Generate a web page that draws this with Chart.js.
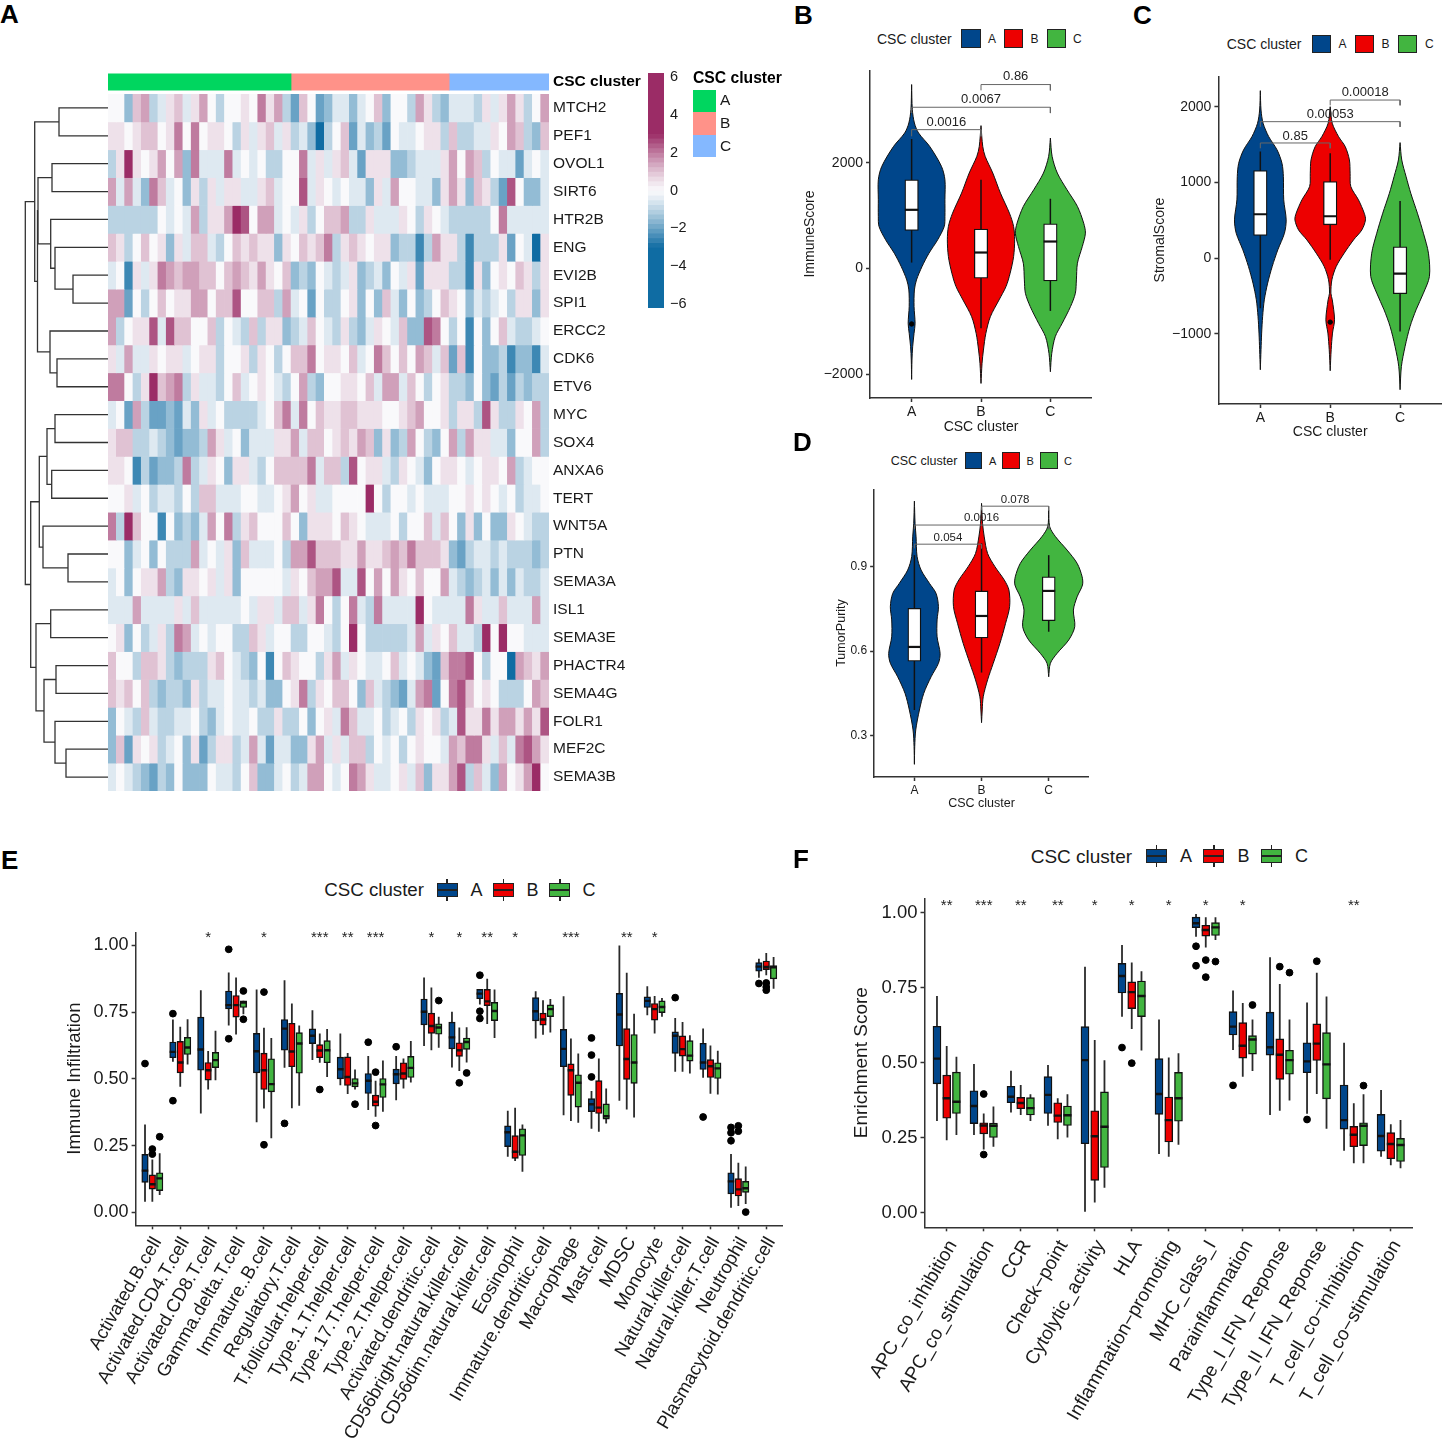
<!DOCTYPE html>
<html>
<head>
<meta charset="utf-8">
<title>CSC cluster panels</title>
<script src="https://cdn.jsdelivr.net/npm/chart.js@4/dist/chart.umd.min.js"></script>
<style>
  html, body { margin: 0; padding: 0; background: #fff; width: 1442px; height: 1442px; overflow: hidden; }
  #page { position: relative; width: 1442px; height: 1442px; overflow: hidden; font-family: "Liberation Sans", Arial, sans-serif; }
  #page canvas { position: absolute; }
  .txt { position: absolute; white-space: nowrap; line-height: 1; color: #1a1a1a; transform: translateY(-50%); }
  .key { position: absolute; box-sizing: border-box; border: 1.5px solid #222; }
</style>
</head>
<body>
<div id="page"></div>
<script>
// ---------- shared categories ----------
const clusterNames = ['A', 'B', 'C'];
const clusterColors = ['#00468B', '#ED0000', '#42B540'];

// ---------- panel A: heatmap ----------
const genes = ['MTCH2', 'PEF1', 'OVOL1', 'SIRT6', 'HTR2B', 'ENG', 'EVI2B', 'SPI1', 'ERCC2', 'CDK6', 'ETV6', 'MYC', 'SOX4',
  'ANXA6', 'TERT', 'WNT5A', 'PTN', 'SEMA3A', 'ISL1', 'SEMA3E', 'PHACTR4', 'SEMA4G', 'FOLR1', 'MEF2C', 'SEMA3B'];
const annotCounts = [22, 19, 12];
const annotColors = ['#00D65F', '#FF9289', '#84B8FF'];
const colorTicks = [-6, -4, -2, 0, 2, 4, 6];
const colorBreaks = [-6.2, -3, -2.75, -2.5, -2.25, -2, -1.75, -1.5, -1.25, -1, -0.75, -0.5, -0.25, 0, 0.25, 0.5, 0.75, 1, 1.25, 1.5, 1.75, 2, 2.25, 2.5, 2.75, 3, 6.2];
const heatRows = [
  [0,0,-3,2,3,-2,-1,1,2,-1,1,3,0,-2,0,0,1,0,4,1,3,-2,-4,2,0,-4,-3,-1,-1,-3,-1,0,2,-3,0,0,-2,3,1,-2,-3,-1,-1,-1,-2,1,-1,1,3,1,-2,0,3],
  [1,1,0,1,2,2,0,1,4,0,4,0,1,1,0,-2,1,-1,1,2,-1,1,-2,-1,-3,-6,-2,0,2,-4,-1,-3,-2,-4,0,-1,-1,0,1,1,-2,2,-2,-2,-1,-1,1,0,3,2,-2,-3,2],
  [-2,1,6,1,0,1,3,0,3,-3,4,-1,-1,-1,4,-1,0,-1,0,-2,-2,0,0,4,-1,1,-1,1,2,-1,-4,1,1,1,-3,-3,-2,-1,-1,-1,1,3,0,3,2,-2,0,-1,-1,-4,-1,0,-1],
  [3,-1,3,-1,-3,4,2,-1,0,-3,1,-2,1,-1,1,1,-1,-1,1,2,-1,0,0,5,-1,1,0,-1,0,-1,-1,-3,1,-1,3,0,0,-1,-1,-3,1,3,1,-3,2,1,-2,-4,5,0,-3,-3,-1],
  [-2,-2,-2,-2,-2,-2,0,-1,0,-1,3,-2,1,1,3,6,5,0,3,3,-1,0,-1,1,-2,0,2,2,3,-2,-2,1,-1,-1,-1,1,0,-2,1,0,-1,-2,-2,-2,-2,-2,0,4,-1,-1,-1,-1,-1],
  [2,1,-2,0,2,0,1,-3,1,-1,2,2,-1,-2,0,2,1,2,1,1,-3,1,0,2,1,2,4,-2,1,2,1,0,1,1,-3,-2,-2,-5,-2,3,1,1,-2,-5,-2,-2,-2,1,-4,0,-1,-6,1],
  [-1,0,-5,1,-1,1,4,3,2,3,3,2,2,0,2,3,2,1,3,1,0,2,-3,-2,-3,0,-1,-2,-1,1,-3,-2,-1,-3,0,-1,1,-4,1,1,1,-2,-2,-5,1,-3,0,1,0,2,1,-2,1],
  [3,3,-4,0,-2,0,2,0,1,1,3,3,0,2,2,5,0,0,2,2,-2,3,-1,0,-4,0,-2,-2,0,1,-3,0,-3,2,-1,-3,0,-3,-2,0,2,1,0,-3,-1,-2,-1,0,-2,1,1,-3,1],
  [3,-2,0,1,1,5,-1,5,2,2,0,0,2,-2,0,-1,-2,2,-2,1,1,-3,-2,-1,2,0,-1,-2,1,-2,-3,-1,1,0,-1,2,-3,-3,5,4,0,-2,0,-5,0,-3,0,2,-1,-2,-2,-1,0],
  [1,-1,3,-1,-1,1,0,1,1,-1,0,1,1,-2,0,0,1,-2,1,0,-2,0,2,2,4,0,1,1,0,2,-1,0,4,2,0,2,0,3,2,-1,2,-4,2,-5,0,-3,-3,-2,-5,-3,-3,-5,-1],
  [4,4,0,-2,1,6,2,3,4,-2,1,-1,-1,-2,0,2,-1,0,1,0,-1,-2,0,3,-2,-3,0,0,1,1,0,2,-1,3,3,-1,2,0,-2,0,1,-2,-2,-3,0,-3,-4,-2,-4,-2,-3,-2,-2],
  [-1,0,-4,3,-2,-4,-4,-3,-4,-1,-3,1,-1,0,-2,-2,-2,-2,-1,0,2,4,-1,4,0,2,1,1,2,2,1,1,1,0,0,1,2,3,0,0,1,-2,1,1,-2,5,1,-2,-2,1,0,3,-2],
  [1,2,2,-2,-2,-1,-2,-3,-4,-3,-3,-2,3,1,-1,0,-3,-1,-1,-1,1,1,3,-1,2,2,0,1,2,1,3,2,-3,1,-3,-2,3,0,-2,-3,0,3,-2,3,1,1,-1,-1,-3,0,0,3,-2],
  [1,1,0,-5,-2,-4,-3,-3,-2,4,-2,-1,1,0,-3,1,1,-1,-2,0,2,2,2,2,4,-1,2,2,-2,5,0,1,1,-1,-2,1,0,-1,-3,0,1,1,0,-1,0,1,1,0,3,-2,-1,0,0],
  [0,0,1,-1,0,-2,-1,-1,-2,0,-2,2,2,-1,-1,-1,0,0,-1,-1,0,1,3,0,1,-1,-1,0,0,0,0,6,0,-2,0,0,-1,0,-1,-1,-1,0,0,1,0,1,0,-1,0,-2,-1,-1,0],
  [4,-2,6,2,0,0,-5,0,-3,-2,-3,-1,3,0,4,-2,1,2,0,0,0,2,0,-3,1,1,1,0,2,1,0,-1,-1,-1,0,-2,0,0,2,-1,2,0,-3,1,-3,0,-3,-3,1,0,-1,-2,-2],
  [0,0,-3,-1,0,-3,0,-2,-2,-2,3,-1,0,-1,1,-3,2,-1,-1,-1,0,-2,3,3,5,2,2,2,1,1,3,1,1,2,3,2,4,2,2,2,1,-3,-4,-2,-1,-1,-2,-1,-2,-2,-2,-3,-2],
  [-1,0,-3,0,1,1,3,-2,-3,1,1,0,1,-1,1,-3,0,0,0,0,0,-1,1,0,2,3,3,5,-1,-1,5,0,3,0,3,1,0,2,0,0,3,-1,-2,-3,-2,-1,-3,-1,-3,-1,-2,-2,-1],
  [-1,-1,-1,3,-1,-1,-1,-1,1,-1,2,-1,-1,-1,-1,-1,0,-1,1,1,-1,2,2,-1,1,4,0,-2,0,4,-1,-2,4,-1,-1,-1,-1,6,0,-1,-1,-1,-1,4,1,-1,-1,2,-1,-1,-1,3,-1],
  [0,1,-3,0,-2,-1,1,-2,4,3,-1,0,-1,0,0,-2,-2,2,1,-1,0,0,-2,-2,0,0,-1,-2,0,6,0,-2,-2,-2,-2,-2,-1,3,-1,1,0,2,-1,-1,-2,6,0,6,0,0,-1,-1,-1],
  [2,0,0,-2,2,2,1,-2,-3,-2,-2,-2,1,2,0,-1,-2,-3,0,-5,0,2,1,0,0,-2,1,3,-1,1,0,-1,-1,0,2,-1,0,-1,-3,-4,2,4,4,5,0,-2,0,0,-6,3,2,1,3],
  [2,1,2,0,2,-2,-3,-2,-2,-3,1,-2,-1,-1,0,-1,-1,-2,-1,-3,-3,0,1,4,-2,1,0,2,2,0,-3,2,-1,-2,-3,-4,-1,3,4,-4,0,4,5,2,0,1,0,-2,-2,-2,0,3,2],
  [-3,0,-1,-2,2,-1,-2,-2,-1,-1,0,-2,-3,-1,0,-1,-1,0,-2,-2,1,-2,-2,0,-3,0,1,-1,4,2,-1,-1,0,-2,-1,0,-2,1,0,1,-2,-1,5,1,1,4,1,3,3,1,3,1,5],
  [-3,2,-4,1,0,1,-2,-1,0,-3,1,-4,-2,1,1,-2,-1,3,-1,-4,-1,-1,-3,-3,1,3,-1,1,-1,2,2,-2,0,-1,0,-2,0,1,0,0,-1,3,2,4,4,1,-1,2,-1,4,5,3,1],
  [-1,0,-1,-2,-3,-4,-2,-3,0,-3,-3,-3,0,-1,-1,-2,0,2,-3,-3,-1,0,-2,-1,3,3,0,-1,0,4,3,1,-1,-1,0,1,-1,2,-3,1,1,3,5,-2,2,-1,-3,3,0,1,3,6,0]
];
// row clustering: [left, right, merge distance], leaves are row numbers
const dendroTree = [
  [[0, 1, 59], [[[2, 3, 52], [4, [5, [6, 7, 73], 55], 50.7], 38], [8, [9, 10, 57], 50], 37.5], 34.7],
  [[[[11, 12, 55], [13, 14, 51.7], 47], [15, [16, 17, 68], 43], 39.3],
   [[18, 19, 50.7], [[20, 21, 56], [22, [23, 24, 66], 55], 44], 36], 30.7],
  25.3
];

// ---------- panels B, C, D: violins, [value, half width] ----------
const immuneViolinA = [[3477,0],[3004,.01],[2751,.04],[2562,.1],[2309,.26],[1931,.43],[1678,.48],[1300,.48],[984,.48],[795,.47],[543,.375],[290,.25],[38,.15],[-215,.07],[-404,.04],[-719,.035],[-1035,.05],[-1224,.035],[-1477,.015],[-1729,.005],[-2095,0]];
const immuneViolinB = [[2701,0],[2309,.025],[2120,.06],[1805,.17],[1426,.28],[1047,.41],[795,.47],[543,.485],[227,.47],[-88,.42],[-341,.36],[-593,.26],[-909,.135],[-1224,.07],[-1540,.035],[-1792,.015],[-2171,0]];
const immuneViolinC = [[2467,0],[2120,.025],[1805,.1],[1489,.24],[1174,.39],[858,.48],[669,.505],[416,.46],[101,.39],[-215,.375],[-467,.36],[-719,.29],[-1035,.17],[-1287,.07],[-1603,.02],[-1950,0]];
const immuneBoxes = [[113,719,1110,1678,2448],[-1130,-183,303,745,1678],[-801,-233,511,846,1319]];
const immuneOutliers = [[1,-1047]];
const immuneTicks = [-2000,0,2000];
const immuneBrackets = [[1,2,2625,126],[1,3,3048,110],[2,3,3477,110]];
const immunePValues = [[1.5,2764,'0.0016'],[2,3193,'0.0067'],[2.5,3622,'0.86']];

const stromalViolinA = [[2216,0],[1960,.01],[1784,.04],[1608,.12],[1432,.24],[1255,.31],[1079,.33],[771,.335],[507,.37],[330,.345],[110,.25],[-110,.17],[-330,.105],[-551,.057],[-771,.033],[-991,.019],[-1211,.01],[-1476,0]];
const stromalViolinB = [[2004,0],[1784,.03],[1608,.12],[1476,.215],[1299,.275],[1123,.285],[947,.295],[771,.405],[595,.487],[507,.505],[374,.453],[242,.334],[66,.2],[-110,.086],[-286,.024],[-463,.01],[-551,.03],[-815,.062],[-991,.033],[-1211,.014],[-1489,0]];
const stromalViolinC = [[1529,0],[1299,.024],[1079,.086],[859,.153],[595,.248],[330,.334],[66,.406],[-242,.42],[-463,.334],[-683,.229],[-903,.143],[-1167,.072],[-1432,.019],[-1740,0]];
const stromalBoxes = [[-661,300,581,1159,1410],[-22,441,555,1013,1388],[-969,-471,-203,150,758]];
const stromalOutliers = [[2,-846]];
const stromalTicks = [-1000,0,1000,2000];
const stromalBrackets = [[1,2,1524,70],[1,3,1806,70],[2,3,2092,70]];
const stromalPValues = [[1.5,1617,'0.85'],[2,1907,'0.00053'],[2.5,2194,'0.00018']];

const purityViolinA = [[1.133,0],[1.054,.01],[1.006,.025],[.936,.04],[.888,.1],[.841,.224],[.805,.323],[.758,.358],[.711,.338],[.651,.338],[.592,.383],[.557,.358],[.509,.249],[.45,.139],[.391,.075],[.32,.02],[.261,.005],[.198,0]];
const purityViolinB = [[1.125,0],[1.054,.015],[1.006,.04],[.947,.09],[.9,.2],[.853,.338],[.817,.408],[.758,.418],[.699,.358],[.628,.274],[.557,.174],[.498,.09],[.438,.025],[.391,.01],[.346,0]];
const purityViolinC = [[1.101,0],[1.042,.015],[1.007,.1],[.959,.274],[.912,.423],[.864,.498],[.835,.503],[.793,.423],[.746,.368],[.687,.388],[.64,.299],[.592,.124],[.557,.025],[.509,0]];
const purityBoxes = [[.391,.564,.615,.752,.941],[.524,.647,.725,.814,.983],[.669,.708,.814,.864,.941]];
const purityOutliers = [];
const purityTicks = [.3,.6,.9];
const purityBrackets = [[1,2,.98,.015],[1,3,1.048,.015],[2,3,1.115,.015]];
const purityPValues = [[1.5,1.003,'0.054'],[2,1.072,'0.0016'],[2.5,1.139,'0.078']];

// ---------- panel E: boxes, [low, q1, median, q3, high] ----------
const cellTypes = ['Activated.B.cell','Activated.CD4.T.cell','Activated.CD8.T.cell','Gamma.delta.T.cell','Immature..B.cell','Regulatory.T.cell',
  'T.follicular.helper.cell','Type.1.T.helper.cell','Type.17.T.helper.cell','Type.2.T.helper.cell','Activated.dendritic.cell',
  'CD56bright.natural.killer.cell','CD56dim.natural.killer.cell','Eosinophil','Immature.dendritic.cell','Macrophage','Mast.cell','MDSC',
  'Monocyte','Natural.killer.cell','Natural.killer.T.cell','Neutrophil','Plasmacytoid.dendritic.cell'];
const cellBoxesA = [[.04,.112,.156,.217,.329],[.564,.579,.601,.638,.722],[.37,.532,.61,.731,.832],[.70,.762,.776,.829,.898],[.337,.522,.603,.67,.834],[.541,.607,.688,.722,.869],[.57,.632,.661,.687,.757],[.476,.50,.536,.581,.67],[.383,.445,.493,.52,.585],[.42,.481,.517,.536,.585],[.623,.702,.751,.799,.879],[.542,.612,.655,.712,.751],[.778,.80,.819,.835,.835],[.208,.246,.30,.324,.38],[.651,.717,.753,.804,.828],[.364,.545,.612,.685,.809],[.313,.377,.405,.426,.454],[.418,.623,.741,.82,.999],[.738,.767,.792,.807,.847],[.526,.595,.661,.676,.728],[.504,.535,.561,.633,.688],[.017,.069,.116,.148,.218],[.878,.903,.92,.935,.95]];
const cellBoxesB = [[.04,.087,.105,.14,.198],[.47,.522,.561,.64,.695],[.46,.495,.532,.561,.604],[.666,.731,.776,.812,.879],[.389,.46,.532,.596,.691],[.39,.545,.602,.708,.782],[.56,.579,.606,.628,.67],[.443,.475,.507,.582,.597],[.358,.398,.414,.439,.493],[.464,.498,.52,.56,.576],[.607,.67,.698,.746,.842],[.529,.584,.607,.635,.692],[.705,.774,.79,.835,.875],[.192,.202,.227,.287,.392],[.665,.701,.722,.746,.794],[.342,.438,.532,.556,.651],[.302,.37,.392,.493,.576],[.385,.498,.574,.688,.897],[.67,.72,.761,.782,.81],[.526,.585,.611,.661,.713],[.444,.505,.547,.572,.625],[.024,.061,.086,.126,.186],[.888,.909,.919,.941,.971]];
const cellBoxesC = [[.065,.081,.127,.148,.221],[.554,.591,.617,.655,.723],[.495,.542,.57,.599,.68],[.742,.767,.786,.792,.792],[.277,.451,.48,.575,.653],[.399,.521,.632,.673,.70],[.507,.56,.607,.643,.687],[.46,.47,.483,.501,.535],[.377,.43,.479,.501,.569],[.486,.505,.541,.584,.642],[.616,.667,.692,.706,.732],[.561,.61,.638,.653,.693],[.653,.718,.754,.786,.834],[.152,.213,.288,.313,.329],[.673,.733,.761,.777,.799],[.335,.394,.485,.515,.595],[.333,.349,.36,.406,.464],[.355,.483,.561,.666,.744],[.732,.748,.769,.792,.803],[.52,.566,.587,.643,.663],[.441,.501,.539,.56,.605],[.031,.075,.09,.116,.172],[.837,.874,.918,.924,.956]];
// outliers, [category number, value]
const cellOutliersA = [[1,.557],[2,.744],[2,.418],[4,.985],[4,.65],[6,.333],[9,.637],[10,.62],[13,.888],[13,.753],[13,.726],[17,.653],[17,.589],[17,.507],[20,.804],[21,.357],[22,.318],[22,.298],[22,.268],[23,.857]];
const cellOutliersB = [[1,.237],[1,.218],[5,.825],[5,.253],[7,.46],[9,.525],[9,.325],[12,.485],[22,.324],[22,.304],[23,.859],[23,.844],[23,.832]];
const cellOutliersC = [[1,.283],[4,.829],[4,.723],[8,.405],[11,.793],[12,.522],[22,.001]];
const cellStars = [[3,'*'],[5,'*'],[7,'***'],[8,'**'],[9,'***'],[11,'*'],[12,'*'],[13,'**'],[14,'*'],[16,'***'],[18,'**'],[19,'*']];
const cellTicks = [0,.25,.5,.75,1];

// ---------- panel F ----------
const pathways = ['APC_co_inhibition','APC_co_stimulation','CCR','Check\u2212point','Cytolytic_activity','HLA','Inflammation\u2212promoting','MHC_class_I',
  'Parainflammation','Type_I_IFN_Reponse','Type_II_IFN_Reponse','T_cell_co\u2212inhibition','T_cell_co\u2212stimulation'];
const pathBoxesA = [[.306,.43,.514,.622,.723],[.259,.297,.356,.407,.496],[.334,.367,.387,.422,.474],[.29,.331,.393,.454,.493],[.003,.23,.509,.621,.821],[.654,.733,.79,.832,.893],[.196,.328,.396,.514,.645],[.921,.951,.966,.986,.997],[.543,.593,.621,.671,.741],[.326,.526,.552,.669,.852],[.33,.467,.505,.567,.701],[.207,.279,.309,.426,.567],[.187,.205,.256,.328,.409]];
const pathBoxesB = [[.242,.315,.382,.459,.556],[.211,.263,.291,.30,.331],[.326,.347,.366,.385,.426],[.245,.301,.324,.367,.382],[.034,.108,.255,.34,.576],[.613,.681,.736,.77,.835],[.187,.236,.309,.386,.518],[.885,.923,.943,.959,.986],[.454,.516,.557,.634,.70],[.34,.445,.527,.58,.763],[.396,.508,.564,.63,.801],[.165,.22,.26,.288,.365],[.158,.18,.229,.267,.295]];
const pathBoxesC = [[.259,.331,.37,.469,.52],[.22,.251,.29,.299,.354],[.306,.326,.349,.384,.395],[.251,.291,.325,.356,.395],[.083,.151,.287,.403,.509],[.541,.654,.723,.773,.806],[.227,.305,.382,.468,.532],[.91,.925,.952,.968,.986],[.473,.529,.578,.591,.645],[.374,.462,.509,.542,.645],[.28,.38,.495,.601,.721],[.165,.224,.29,.30,.395],[.148,.171,.226,.248,.309]];
const pathOutliersA = [[6,.551],[8,.889],[8,.824],[9,.425],[11,.311]];
const pathOutliersB = [[2,.396],[2,.194],[6,.499],[8,.843],[8,.786],[10,.821],[11,.839]];
const pathOutliersC = [[8,.838],[9,.693],[10,.801],[12,.424]];
const pathStars = [[1,'**'],[2,'***'],[3,'**'],[4,'**'],[5,'*'],[6,'*'],[7,'*'],[8,'*'],[9,'*'],[12,'**']];
const pathTicks = [0,.25,.5,.75,1];

// ---------- helpers ----------
Chart.defaults.font.family = '"Liberation Sans", Arial, sans-serif';
Chart.defaults.color = '#1a1a1a';
Chart.defaults.animation = false;
Chart.defaults.responsive = false;
Chart.defaults.layout.autoPadding = false;
Chart.defaults.plugins.legend.display = false;
Chart.defaults.plugins.tooltip.enabled = false;

const page = document.getElementById('page');
const axisColor = '#333';

function addCanvas(left, top, right, bottom) {
  const c = document.createElement('canvas');
  c.width = right - left;
  c.height = bottom - top;
  c.style.left = left + 'px';
  c.style.top = top + 'px';
  page.appendChild(c);
  return c;
}

function addText(text, x, y, size, bold) {
  const d = document.createElement('div');
  d.className = 'txt';
  d.textContent = text;
  d.style.left = x + 'px';
  d.style.top = y + 'px';
  d.style.fontSize = size + 'px';
  if (bold) { d.style.fontWeight = 'bold'; d.style.color = '#000'; }
  page.appendChild(d);
}

function addBox(x, y, w, h, color, cls) {
  const d = document.createElement('div');
  d.className = cls || '';
  d.style.position = 'absolute';
  d.style.left = x + 'px';
  d.style.top = y + 'px';
  d.style.width = w + 'px';
  d.style.height = h + 'px';
  d.style.background = color;
  page.appendChild(d);
}

// legend keys: plain fill for the violins, box with whisker and median for E and F
function addLegend(o) {
  addText('CSC cluster', o.x, o.y, o.size);
  clusterNames.forEach((name, i) => {
    const kx = o.keys[i];
    if (o.whisker) {
      addBox(kx + o.w / 2 - 0.75, o.y - o.h / 2 - 4, 1.5, o.h + 8, '#222');
    }
    addBox(kx, o.y - o.h / 2, o.w, o.h, clusterColors[i], 'key');
    if (o.whisker) {
      addBox(kx, o.y - 0.75, o.w, 1.5, '#222');
    }
    addText(name, o.labels[i], o.y, o.labelSize);
  });
}

// text tied to data coordinates (p values, significance stars)
const textMarks = {
  id: 'textMarks',
  afterDatasetsDraw(chart, args, opts) {
    if (!opts.items) return;
    const ctx = chart.ctx;
    ctx.save();
    ctx.font = opts.size + 'px "Liberation Sans", Arial, sans-serif';
    ctx.fillStyle = '#222';
    ctx.textAlign = 'center';
    ctx.textBaseline = 'middle';
    opts.items.forEach(([x, y, text]) => {
      ctx.fillText(text, chart.scales.x.getPixelForValue(x), chart.scales.y.getPixelForValue(y));
    });
    ctx.restore();
  }
};
Chart.register(textMarks);

function plotScales(o) {
  return {
    x: {
      type: 'linear',
      offset: false,
      min: 0.4,
      max: o.labels.length + 0.6,
      afterBuildTicks(s) { s.ticks = o.labels.map((_, i) => ({ value: i + 1 })); },
      afterFit(s) { s.height = o.xHeight; s.paddingLeft = 0; s.paddingRight = 0; },
      grid: { offset: false, drawOnChartArea: false, color: axisColor, tickLength: 4, tickWidth: 1.5 },
      border: { color: axisColor, width: 1.5 },
      ticks: {
        autoSkip: false,
        font: { size: o.xFont },
        maxRotation: o.rotation || 0,
        minRotation: o.rotation || 0,
        padding: o.xPad === undefined ? 2 : o.xPad,
        labelOffset: o.labelOffset || 0,
        callback: v => o.labels[v - 1]
      },
      title: { display: !!o.xTitle, text: o.xTitle, font: { size: o.titleFont }, padding: 0 }
    },
    y: {
      min: o.yMin,
      max: o.yMax,
      beginAtZero: false,
      afterBuildTicks(s) { s.ticks = o.yTicks.map(v => ({ value: v })); },
      afterFit(s) { s.width = o.yWidth; s.paddingTop = 0; s.paddingBottom = 0; },
      grid: { drawOnChartArea: false, color: axisColor, tickLength: 4, tickWidth: 1.5 },
      border: { color: axisColor, width: 1.5 },
      ticks: { font: { size: o.yFont }, callback: o.yFormat },
      title: { display: true, text: o.yTitle, font: { size: o.titleFont }, padding: 0 }
    }
  };
}

const minusFormat = v => String(v).replace('-', '\u2212');

function violinShape(outline, cat) {
  const right = outline.map(([v, w]) => ({ x: cat + w, y: v }));
  const left = outline.map(([v, w]) => ({ x: cat - w, y: v })).reverse();
  return right.concat(left);
}

function violinChart(o) {
  const datasets = [];
  o.violins.forEach((outline, i) => {
    datasets.push({
      type: 'scatter', showLine: true, data: violinShape(outline, i + 1), fill: 'shape', tension: 0.3,
      backgroundColor: clusterColors[i], borderColor: '#111', borderWidth: 1, pointRadius: 0, order: 6
    });
  });
  const cats = o.boxes.map((_, i) => i + 1);
  datasets.push({ type: 'bar', grouped: false, barThickness: 1.5, inflateAmount: 0, backgroundColor: '#111', order: 5,
    data: o.boxes.map((b, i) => ({ x: cats[i], y: [b[0], b[4]] })) });
  datasets.push({ type: 'bar', grouped: false, barThickness: o.boxWidth, backgroundColor: '#fff', borderColor: '#111',
    borderWidth: 1.3, borderSkipped: false, order: 4,
    data: o.boxes.map((b, i) => ({ x: cats[i], y: [b[1], b[3]] })) });
  datasets.push({ type: 'scatter', pointStyle: 'line', pointRadius: o.boxWidth / 2, pointBorderWidth: 2.2, pointBorderColor: '#111', order: 3,
    data: o.boxes.map((b, i) => ({ x: cats[i], y: b[2] })) });
  datasets.push({ type: 'scatter', pointRadius: 2.2, backgroundColor: '#000', borderColor: '#000', order: 2,
    data: o.outliers.map(([x, y]) => ({ x, y })) });
  o.brackets.forEach(([a, b, y, drop]) => {
    datasets.push({ type: 'scatter', showLine: true, pointRadius: 0, borderColor: '#666', borderWidth: 1, order: 1,
      data: [{ x: a, y: y - drop }, { x: a, y }, { x: b, y }, { x: b, y: y - drop }] });
  });
  new Chart(addCanvas(o.left, o.top, o.right, o.bottom), {
    type: 'scatter',
    data: { datasets },
    options: {
      scales: plotScales(o),
      plugins: { textMarks: { items: o.pValues, size: o.pSize } }
    }
  });
}

function boxChart(o) {
  const datasets = [];
  o.series.forEach((boxes, s) => {
    const shift = (s - 1) * 0.263;
    datasets.push({ type: 'bar', grouped: false, barThickness: 1.8, inflateAmount: 0, backgroundColor: '#2a2a2a', order: 5,
      data: boxes.map((b, i) => ({ x: i + 1 + shift, y: [b[0], b[4]] })) });
    datasets.push({ type: 'bar', grouped: false, barThickness: o.boxWidth, backgroundColor: clusterColors[s], borderColor: '#111',
      borderWidth: 1.4, borderSkipped: false, order: 4,
      data: boxes.map((b, i) => ({ x: i + 1 + shift, y: [b[1], b[3]] })) });
    datasets.push({ type: 'scatter', pointStyle: 'line', pointRadius: o.boxWidth / 2, pointBorderWidth: 2.4, pointBorderColor: '#111', order: 3,
      data: boxes.map((b, i) => ({ x: i + 1 + shift, y: b[2] })) });
    datasets.push({ type: 'scatter', pointRadius: 3.4, backgroundColor: '#000', borderColor: '#000', order: 2,
      data: o.outliers[s].map(([c, v]) => ({ x: c + shift, y: v })) });
  });
  new Chart(addCanvas(o.left, o.top, o.right, o.bottom), {
    type: 'scatter',
    data: { datasets },
    options: {
      scales: plotScales(o),
      plugins: { textMarks: { items: o.stars.map(([c, t]) => [c, o.starY, t]), size: 15 } }
    }
  });
}

// near white at 0 out to the two end colours, flat beyond half z-score level 6
function heatColor(level) {
  const t = Math.pow(Math.min(Math.abs(level) / 6, 1), 1.2);
  const end = level < 0 ? [15, 108, 163] : [155, 44, 102];
  const c = end.map((e, i) => Math.round([249, 249, 251][i] + (e - [249, 249, 251][i]) * t));
  return 'rgb(' + c.join(',') + ')';
}

// ---------- panel A ----------
new Chart(addCanvas(0, 94, 108, 791), {
  type: 'scatter',
  data: { datasets: buildDendro() },
  options: {
    scales: {
      x: { type: 'linear', min: 0, max: 108, display: false },
      y: { type: 'linear', min: -0.5, max: 24.5, reverse: true, display: false }
    }
  }
});

function buildDendro() {
  const sets = [];
  function walk(node) {
    if (typeof node === 'number') return { x: 108, y: node };
    const a = walk(node[0]);
    const b = walk(node[1]);
    const h = node[2];
    sets.push({ showLine: true, pointRadius: 0, borderColor: '#333', borderWidth: 1.3,
      data: [{ x: a.x, y: a.y }, { x: h, y: a.y }, { x: h, y: b.y }, { x: b.x, y: b.y }] });
    return { x: h, y: (a.y + b.y) / 2 };
  }
  walk(dendroTree);
  return sets;
}

new Chart(addCanvas(108, 64, 660, 100), {
  type: 'bar',
  data: {
    labels: ['CSC cluster'],
    datasets: annotCounts.map((n, i) => ({ data: [n], backgroundColor: annotColors[i], barThickness: 16.5 }))
  },
  options: {
    indexAxis: 'y',
    layout: { padding: { top: 9, bottom: 9 } },
    scales: {
      x: { stacked: true, min: 0, max: 53, display: false },
      y: { stacked: true, position: 'right', afterFit(s) { s.width = 111; s.paddingTop = 0; s.paddingBottom = 0; }, grid: { display: false, drawTicks: false }, border: { display: false },
        ticks: { padding: 4, font: { size: 15.5, weight: 'bold' }, color: '#000' } }
    }
  }
});

new Chart(addCanvas(108, 94, 660, 791), {
  type: 'bar',
  data: {
    labels: genes,
    datasets: heatRows.map((row, r) => ({
      grouped: false,
      barThickness: 27.87,
      data: row.map((level, c) => ({ x: [c, c + 1], y: genes[r], level })),
      backgroundColor: ctx => heatColor(ctx.raw ? ctx.raw.level : 0)
    }))
  },
  options: {
    indexAxis: 'y',
    scales: {
      x: { type: 'linear', min: 0, max: 53, display: false },
      y: { position: 'right', afterFit(s) { s.width = 111; s.paddingTop = 0; s.paddingBottom = 0; }, grid: { display: false, drawTicks: false }, border: { display: false },
        ticks: { autoSkip: false, padding: 4, font: { size: 15.5 } } }
    }
  }
});

new Chart(addCanvas(648, 58, 700, 323), {
  type: 'scatter',
  data: {
    datasets: [{
      type: 'bar',
      grouped: false,
      barThickness: 16,
      data: colorBreaks.slice(1).map((top, i) => ({ x: 0, y: [colorBreaks[i], top] })),
      backgroundColor: ctx => ctx.raw ? heatColor((ctx.raw.y[0] + ctx.raw.y[1])) : '#fff'
    }]
  },
  options: {
    layout: { padding: { top: 15, bottom: 15 } },
    scales: {
      x: { type: 'linear', offset: false, min: -0.5, max: 0.5, display: false },
      y: { position: 'right', min: -6.2, max: 6.2, afterBuildTicks(s) { s.ticks = colorTicks.map(v => ({ value: v })); },
        afterFit(s) { s.width = 36; s.paddingTop = 0; s.paddingBottom = 0; }, grid: { display: false, drawTicks: false }, border: { display: false },
        ticks: { padding: 6, font: { size: 14.5 }, callback: minusFormat } }
    }
  }
});

addText('CSC cluster', 693, 78, 15.7, true);
annotColors.forEach((color, i) => {
  addBox(693, 90 + i * 22.4, 23, 22.4, color);
  addText(clusterNames[i], 720, 100 + i * 22.8, 15.5);
});

// ---------- panels B, C, D ----------
violinChart({
  left: 802, top: 70, right: 1092, bottom: 436, xHeight: 38, yWidth: 68,
  labels: clusterNames, xFont: 14, yFont: 14, titleFont: 14, xTitle: 'CSC cluster', yTitle: 'ImmuneScore',
  yMin: -2446, yMax: 3752, yTicks: immuneTicks, yFormat: minusFormat, boxWidth: 13.5, pSize: 13,
  violins: [immuneViolinA, immuneViolinB, immuneViolinC], boxes: immuneBoxes, outliers: immuneOutliers,
  brackets: immuneBrackets, pValues: immunePValues
});
violinChart({
  left: 1152, top: 76, right: 1442, bottom: 441, xHeight: 37, yWidth: 66.4,
  labels: clusterNames, xFont: 14, yFont: 14, titleFont: 14, xTitle: 'CSC cluster', yTitle: 'StromalScore',
  yMin: -1929, yMax: 2410, yTicks: stromalTicks, yFormat: minusFormat, boxWidth: 13.5, pSize: 13,
  violins: [stromalViolinA, stromalViolinB, stromalViolinC], boxes: stromalBoxes, outliers: stromalOutliers,
  brackets: stromalBrackets, pValues: stromalPValues
});
violinChart({
  left: 834, top: 489, right: 1089, bottom: 811, xHeight: 34, yWidth: 40.1,
  labels: clusterNames, xFont: 12, yFont: 12, titleFont: 12.5, xTitle: 'CSC cluster', yTitle: 'TumorPurity',
  yMin: .153, yMax: 1.176, yTicks: purityTicks, yFormat: v => v.toFixed(1), boxWidth: 13, pSize: 11.5,
  violins: [purityViolinA, purityViolinB, purityViolinC], boxes: purityBoxes, outliers: purityOutliers,
  brackets: purityBrackets, pValues: purityPValues
});

// ---------- panels E, F ----------
boxChart({
  left: 64, top: 932, right: 783, bottom: 1442, xHeight: 216.7, yWidth: 71.6,
  labels: cellTypes, xFont: 18.5, yFont: 18, titleFont: 18.5, yTitle: 'Immune Infiltration', rotation: 60, labelOffset: 5, xPad: 4,
  yMin: -0.0486, yMax: 1.0498, yTicks: cellTicks, yFormat: v => v.toFixed(2), boxWidth: 6.5, starY: 1.027,
  series: [cellBoxesA, cellBoxesB, cellBoxesC], outliers: [cellOutliersA, cellOutliersB, cellOutliersC], stars: cellStars
});
boxChart({
  left: 850, top: 898, right: 1413, bottom: 1442, xHeight: 214.7, yWidth: 74.5,
  labels: pathways, xFont: 19, yFont: 18.5, titleFont: 19, yTitle: 'Enrichment Score', rotation: 60, labelOffset: 6, xPad: 5,
  yMin: -0.0487, yMax: 1.05, yTicks: pathTicks, yFormat: v => v.toFixed(2), boxWidth: 8, starY: 1.024,
  series: [pathBoxesA, pathBoxesB, pathBoxesC], outliers: [pathOutliersA, pathOutliersB, pathOutliersC], stars: pathStars
});

// ---------- legends and panel letters ----------
addLegend({ x: 877, y: 38.5, size: 14, w: 19.4, h: 18.7, labelSize: 12, keys: [961.3, 1004, 1046.7], labels: [988, 1030.5, 1073] });
addLegend({ x: 1226.7, y: 44, size: 14, w: 19.4, h: 18.7, labelSize: 12, keys: [1312, 1355, 1397.7], labels: [1338.5, 1381.5, 1425] });
addLegend({ x: 890.7, y: 460.5, size: 12.5, w: 17.7, h: 17.5, labelSize: 11, keys: [964.7, 1002.3, 1040], labels: [989, 1026.5, 1064] });
addLegend({ x: 324.3, y: 890, size: 18.7, w: 21, h: 14, labelSize: 18, whisker: true, keys: [436.7, 493, 549.3], labels: [470.5, 526.5, 582.5] });
addLegend({ x: 1030.7, y: 856, size: 19, w: 21, h: 14, labelSize: 18, whisker: true, keys: [1146, 1203.3, 1261], labels: [1180, 1237.5, 1295] });

[['A', 0, 14], ['B', 794, 15], ['C', 1133, 15], ['D', 793, 442], ['E', 1, 860], ['F', 793, 859]].forEach(([t, x, y]) => addText(t, x, y, 26, true));
</script>
</body>
</html>
